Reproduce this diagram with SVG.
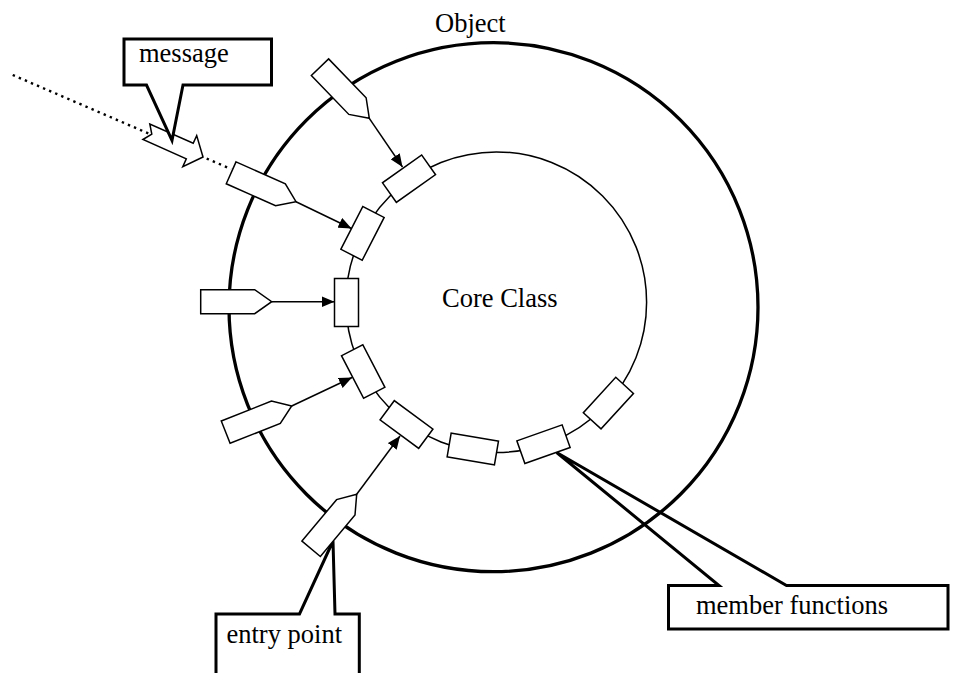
<svg xmlns="http://www.w3.org/2000/svg" width="953" height="673" viewBox="0 0 953 673">
<style>
  text { font-family: 'Liberation Serif', 'DejaVu Serif', serif; font-size: 26.5px; fill: #000; }
  .callout { fill: #fff; stroke: #000; stroke-width: 3; stroke-linejoin: miter; }
  .ep { fill: #fff; stroke: #000; stroke-width: 1.5; }
  .mf { fill: #fff; stroke: #000; stroke-width: 1.5; }
  .conn { fill: none; stroke: #000; stroke-width: 1.5; marker-end: url(#ah); }
</style>
<defs>
  <marker id="ah" markerUnits="userSpaceOnUse" markerWidth="13" markerHeight="11" refX="13" refY="5.5" orient="auto">
    <path d="M0,0 L13,5.5 L0,11 z" fill="#000"/>
  </marker>
  <polygon id="pent" points="-71,-12 -17,-12 0,0 -17,12 -71,12"/>
  <rect id="fn" x="-24" y="-12" width="48" height="24"/>
</defs>
<rect width="953" height="673" fill="#fff"/>

<g id="entry-point-callout">
  <polygon class="callout" points="216,614 299.5,614 333,541 335,614 359.3,614 359.3,690 216,690"/>
  <text x="226.5" y="643" font-family="Liberation Serif, DejaVu Serif, serif">entry point</text>
</g>
<g id="member-functions-callout">
  <polygon class="callout" points="668.5,585.5 719,585.5 556.7,452.5 786.5,585.5 948,585.5 948,629 668.5,629"/>
  <text x="696" y="614" font-family="Liberation Serif, DejaVu Serif, serif">member functions</text>
</g>

<g id="object">
  <circle cx="493.5" cy="307.2" r="264.5" fill="none" stroke="#000" stroke-width="3.3"/>
  <text x="435" y="32" font-family="Liberation Serif, DejaVu Serif, serif">Object</text>
</g>
<g id="core-class">
  <circle cx="496.3" cy="302.2" r="150.3" fill="none" stroke="#000" stroke-width="1.5"/>
  <text x="442" y="307" font-family="Liberation Serif, DejaVu Serif, serif">Core Class</text>
</g>

<g id="connectors">
  <path d="M12.7,75 L231,169" fill="none" stroke="#000" stroke-width="2.4" stroke-dasharray="2.4 4.2"/>
  <path class="conn" d="M369.3,118.3 L402.5,167"/>
  <path class="conn" d="M296,201.7 L351.5,228.5"/>
  <path class="conn" d="M271.7,301.7 L334.5,301.7"/>
  <path class="conn" d="M291.7,406 L352,377.5"/>
  <path class="conn" d="M356.7,494.3 L400,436"/>
</g>

<g id="message">
  <polygon fill="#fff" stroke="#000" stroke-width="1.5" points="203,157 196.7,135.6 193.2,143.3 149.8,124 151.8,134.2 142.9,139.5 186.3,158.9 182.8,166.6"/>
  <polygon class="callout" points="124,39 271.5,39 271.5,85 183,85 172,140.5 146.5,85 124,85"/>
  <text x="139" y="62" font-family="Liberation Serif, DejaVu Serif, serif">message</text>
</g>

<g id="entry-points">
  <use href="#pent" class="ep" transform="translate(369.3,118.3) rotate(46)"/>
  <use href="#pent" class="ep" transform="translate(296,201.7) rotate(24)"/>
  <use href="#pent" class="ep" transform="translate(271.7,301.7)"/>
  <use href="#pent" class="ep" transform="translate(291.7,406) rotate(-21.6)"/>
  <use href="#pent" class="ep" transform="translate(356.7,494.3) rotate(-50.1)"/>
</g>

<g id="member-functions">
  <use href="#fn" class="mf" transform="translate(409,178.7) rotate(-35.3)"/>
  <use href="#fn" class="mf" transform="translate(362.5,233.4) rotate(-62.8)"/>
  <use href="#fn" class="mf" transform="translate(346.5,302.5) rotate(90)"/>
  <use href="#fn" class="mf" transform="translate(363.2,371.5) rotate(62.6)"/>
  <use href="#fn" class="mf" transform="translate(406.5,424.5) rotate(36.4)"/>
  <use href="#fn" class="mf" transform="translate(472.8,449) rotate(9.7)"/>
  <use href="#fn" class="mf" transform="translate(543.5,444.2) rotate(-19.5)"/>
  <use href="#fn" class="mf" transform="translate(608.4,403.1) rotate(-47.5)"/>
</g>
</svg>
